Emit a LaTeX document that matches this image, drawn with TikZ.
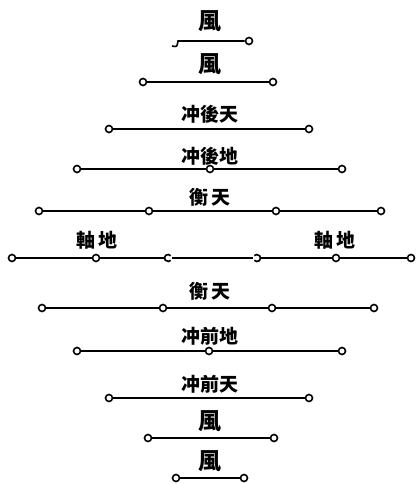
\documentclass[tikz,border=0pt]{standalone}
\usepackage{fontspec}
\newfontfamily\cjk{Noto Sans CJK TC}
\usetikzlibrary{positioning}
\tikzset{
  pin/.style={ draw, circle, fill=white, inner sep=0pt, minimum size=7pt }
}
\tikzset{
  gap/.style={ circle, inner sep=0pt, minimum size=7pt }
}
\tikzset{
  wind/.style={ font=\cjk\bfseries\fontsize{23}{23}\selectfont }
}
\tikzset{
  word/.style={ font=\cjk\bfseries\fontsize{19}{19}\selectfont }
}

\begin{document}
\begin{tikzpicture}[x=1pt, y=-1pt, line width=1.6pt]
      \useasboundingbox (0,0) rectangle (416,484);

      % wind rows, top
      \node[wind] (F1) at (210,21) {風};
      \coordinate (F1a) at (178,41);
      \coordinate (F1h) at (172,46);
      \node[pin] (F1b) at (249,41) {};

      \node[wind] (F2) at (210,64) {風};
      \node[pin] (F2a) at (143,82) {};
      \node[pin] (F2b) at (273,82) {};

      \node[word] (T3) at (210,114) {冲後天};
      \node[pin] (P3a) at (109,129) {};
      \node[pin] (P3b) at (309,129) {};

      \node[word] (T4) at (210,156) {冲後地};
      \node[pin] (P4a) at (77,169) {};
      \node[pin] (P4b) at (210,169) {};
      \node[pin] (P4c) at (342,169) {};

      \node[word] (T5) at (210,197) {衡\,天};
      \node[pin] (P5a) at (39,211) {};
      \node[pin] (P5b) at (149,211) {};
      \node[pin] (P5c) at (276,211) {};
      \node[pin] (P5d) at (381,211) {};

      % axis row
      \node[word] (T6a) at (97,240) {軸\,地};
      \node[word] (T6b) at (335,240) {軸\,地};
      \node[pin] (P6a) at (12,258) {};
      \node[pin] (P6b) at (96,258) {};
      \node[gap] (G6a) at (168,258) {};
      \node[gap] (G6b) at (257,258) {};
      \node[pin] (P6c) at (336,258) {};
      \node[pin] (P6d) at (411,258) {};

      \node[word] (T7) at (210,291) {衡\,天};
      \node[pin] (P7a) at (42,308) {};
      \node[pin] (P7b) at (163,308) {};
      \node[pin] (P7c) at (272,308) {};
      \node[pin] (P7d) at (374,308) {};

      \node[word] (T8) at (210,336) {冲前地};
      \node[pin] (P8a) at (77,351) {};
      \node[pin] (P8b) at (209,351) {};
      \node[pin] (P8c) at (342,351) {};

      \node[word] (T9) at (210,384) {冲前天};
      \node[pin] (P9a) at (109,398) {};
      \node[pin] (P9b) at (309,398) {};

      % wind rows, bottom
      \node[wind] (F10) at (210,421) {風};
      \node[pin] (F10a) at (148,438) {};
      \node[pin] (F10b) at (274,438) {};

      \node[wind] (F11) at (210,461) {風};
      \node[pin] (F11a) at (176,478) {};
      \node[pin] (F11b) at (244,478) {};

      \begin{scope}[line width=1.6pt]
        \draw (F1h) .. controls (177,47) .. (F1a) -- (F1b);
        \draw (F2a) -- (F2b);
        \draw (P3a) -- (P3b);
        \draw (P4a) -- (P4b) -- (P4c);
        \draw (P5a) -- (P5b) -- (P5c) -- (P5d);
        \draw (P6a) -- (P6b) -- (G6a) -- (G6b) -- (P6c) -- (P6d);
        \draw (P7a) -- (P7b) -- (P7c) -- (P7d);
        \draw (P8a) -- (P8b) -- (P8c);
        \draw (P9a) -- (P9b);
        \draw (F10a) -- (F10b);
        \draw (F11a) -- (F11b);

        \draw ([shift={(40:3.5pt)}]G6a.center) arc[start angle=40, end angle=320, radius=3.5pt];
        \draw ([shift={(-140:3.5pt)}]G6b.center) arc[start angle=-140, end angle=140, radius=3.5pt];
      \end{scope}
    \end{tikzpicture}
\end{document}
